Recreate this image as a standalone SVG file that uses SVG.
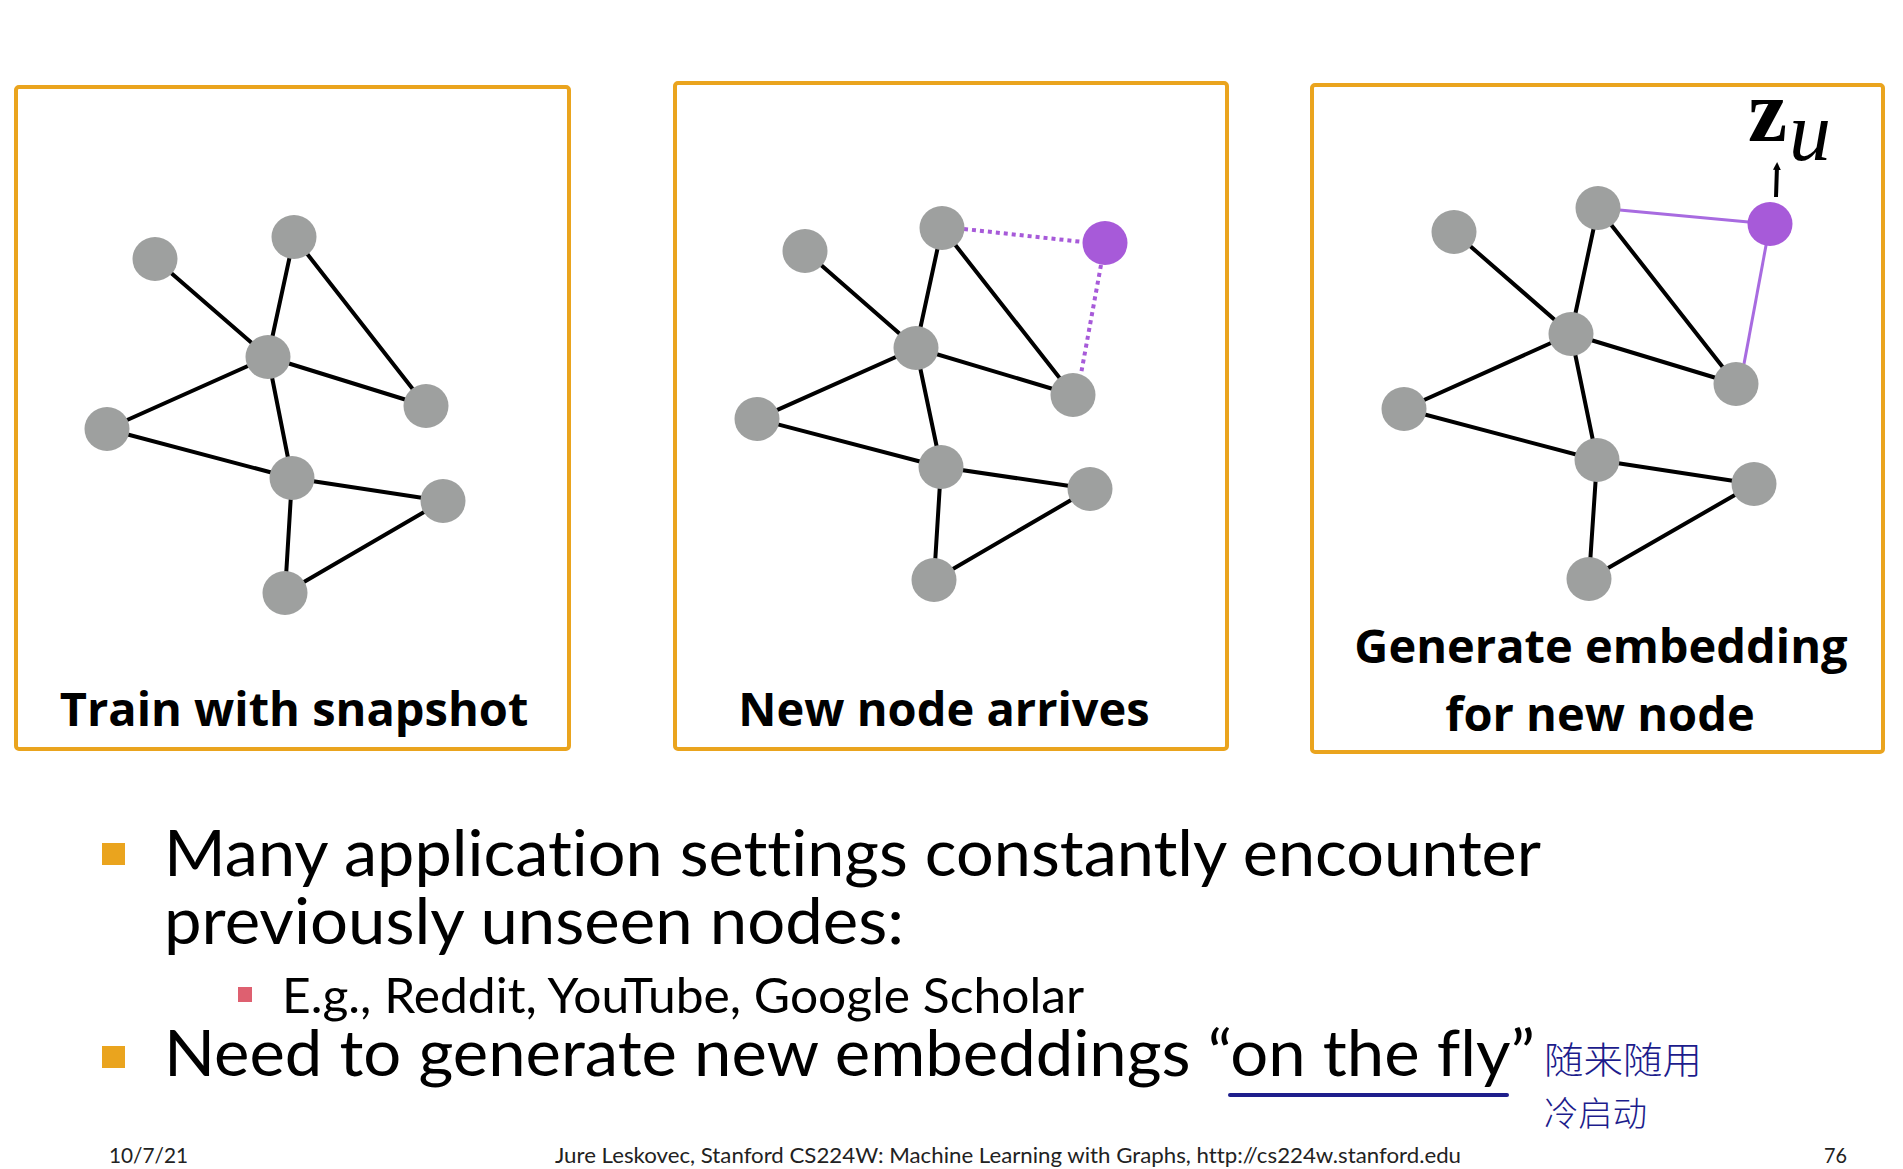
<svg xmlns="http://www.w3.org/2000/svg" width="1903" height="1169" viewBox="0 0 1903 1169">
<defs>
<style>
.frame{fill:#fff;stroke:#EAA41E;stroke-width:4}
.e{stroke:#000;stroke-width:4;stroke-linecap:round}
.n{fill:#9EA09F}
.p{fill:#A75AD9}
.pd{stroke:#A75AD9;stroke-width:4;stroke-dasharray:4 4;fill:none}
.ps{stroke:#A86BE0;stroke-width:3;fill:none}
.lbl{font-family:"Open Sans","DejaVu Sans",sans-serif;font-weight:bold;font-size:47px;fill:#000;text-anchor:middle}
.b1{font-family:Lato,"Liberation Sans",sans-serif;font-size:63px;fill:#000;font-variant-ligatures:none}
.b2{font-family:Lato,"Liberation Sans",sans-serif;font-size:49px;fill:#000;font-variant-ligatures:none}
.ft{font-family:Lato,"Liberation Sans",sans-serif;font-size:22px;fill:#222;font-variant-ligatures:none}
.cn{font-family:"Noto Sans CJK SC","Noto Sans CJK JP",sans-serif;fill:#1C1C8C;font-weight:300}
</style>
<marker id="ah" markerWidth="8" markerHeight="8" refX="4" refY="4" orient="auto" markerUnits="userSpaceOnUse">
<path d="M0,0 L8,4 L0,8 z" fill="#000"/>
</marker>
</defs>
<rect width="1903" height="1169" fill="#fff"/>

<g id="panel1">
<rect class="frame" x="16" y="87" width="553" height="662" rx="3"/>
<g id="p1-edges">
<line class="e" x1="155" y1="259" x2="268" y2="357"/>
<line class="e" x1="294" y1="237" x2="268" y2="357"/>
<line class="e" x1="294" y1="237" x2="426" y2="406"/>
<line class="e" x1="268" y1="357" x2="426" y2="406"/>
<line class="e" x1="268" y1="357" x2="107" y2="429"/>
<line class="e" x1="268" y1="357" x2="292" y2="478"/>
<line class="e" x1="107" y1="429" x2="292" y2="478"/>
<line class="e" x1="292" y1="478" x2="443" y2="501"/>
<line class="e" x1="292" y1="478" x2="285" y2="593"/>
<line class="e" x1="443" y1="501" x2="285" y2="593"/>
</g>
<g id="p1-nodes">
<ellipse class="n" cx="155" cy="259" rx="22.5" ry="22"/>
<ellipse class="n" cx="294" cy="237" rx="22.5" ry="22"/>
<ellipse class="n" cx="268" cy="357" rx="22.5" ry="22"/>
<ellipse class="n" cx="107" cy="429" rx="22.5" ry="22"/>
<ellipse class="n" cx="426" cy="406" rx="22.5" ry="22"/>
<ellipse class="n" cx="292" cy="478" rx="22.5" ry="22"/>
<ellipse class="n" cx="443" cy="501" rx="22.5" ry="22"/>
<ellipse class="n" cx="285" cy="593" rx="22.5" ry="22"/>
</g>
<text class="lbl" x="294" y="726">Train with snapshot</text>
</g>

<g id="panel2">
<rect class="frame" x="675" y="83" width="552" height="666" rx="3"/>
<g id="p2-edges">
<line class="e" x1="805" y1="251" x2="916" y2="348"/>
<line class="e" x1="942" y1="228" x2="916" y2="348"/>
<line class="e" x1="942" y1="228" x2="1073" y2="395"/>
<line class="e" x1="916" y1="348" x2="1073" y2="395"/>
<line class="e" x1="916" y1="348" x2="757" y2="419"/>
<line class="e" x1="916" y1="348" x2="941" y2="467"/>
<line class="e" x1="757" y1="419" x2="941" y2="467"/>
<line class="e" x1="941" y1="467" x2="1090" y2="489"/>
<line class="e" x1="941" y1="467" x2="934" y2="580"/>
<line class="e" x1="1090" y1="489" x2="934" y2="580"/>
<line class="pd" x1="964" y1="229" x2="1083" y2="242"/>
<line class="pd" x1="1101" y1="265" x2="1081" y2="374"/>
</g>
<g id="p2-nodes">
<ellipse class="n" cx="805" cy="251" rx="22.5" ry="22"/>
<ellipse class="n" cx="942" cy="228" rx="22.5" ry="22"/>
<ellipse class="n" cx="916" cy="348" rx="22.5" ry="22"/>
<ellipse class="n" cx="757" cy="419" rx="22.5" ry="22"/>
<ellipse class="n" cx="1073" cy="395" rx="22.5" ry="22"/>
<ellipse class="n" cx="941" cy="467" rx="22.5" ry="22"/>
<ellipse class="n" cx="1090" cy="489" rx="22.5" ry="22"/>
<ellipse class="n" cx="934" cy="580" rx="22.5" ry="22"/>
<ellipse class="p" cx="1105" cy="243" rx="22.5" ry="22"/>
</g>
<text class="lbl" x="944" y="726">New node arrives</text>
</g>

<g id="panel3">
<rect class="frame" x="1312" y="85" width="571" height="667" rx="3"/>
<g id="p3-edges">
<line class="e" x1="1454" y1="232" x2="1571" y2="334"/>
<line class="e" x1="1598" y1="208" x2="1571" y2="334"/>
<line class="e" x1="1598" y1="208" x2="1736" y2="384"/>
<line class="e" x1="1571" y1="334" x2="1736" y2="384"/>
<line class="e" x1="1571" y1="334" x2="1404" y2="409"/>
<line class="e" x1="1571" y1="334" x2="1597" y2="460"/>
<line class="e" x1="1404" y1="409" x2="1597" y2="460"/>
<line class="e" x1="1597" y1="460" x2="1754" y2="484"/>
<line class="e" x1="1597" y1="460" x2="1589" y2="579"/>
<line class="e" x1="1754" y1="484" x2="1589" y2="579"/>
<line class="ps" x1="1598" y1="208" x2="1770" y2="224"/>
<line class="ps" x1="1770" y1="224" x2="1744" y2="364"/>
<line stroke="#000" stroke-width="4" x1="1776" y1="197" x2="1777" y2="166" marker-end="url(#ah)"/>
</g>
<g id="p3-nodes">
<ellipse class="n" cx="1454" cy="232" rx="22.5" ry="22"/>
<ellipse class="n" cx="1598" cy="208" rx="22.5" ry="22"/>
<ellipse class="n" cx="1571" cy="334" rx="22.5" ry="22"/>
<ellipse class="n" cx="1404" cy="409" rx="22.5" ry="22"/>
<ellipse class="n" cx="1736" cy="384" rx="22.5" ry="22"/>
<ellipse class="n" cx="1597" cy="460" rx="22.5" ry="22"/>
<ellipse class="n" cx="1754" cy="484" rx="22.5" ry="22"/>
<ellipse class="n" cx="1589" cy="579" rx="22.5" ry="22"/>
<ellipse class="p" cx="1770" cy="224" rx="22.5" ry="22"/>
</g>
<text x="1748" y="141" font-family="'Liberation Serif',serif" font-weight="bold" font-size="88">z</text>
<text x="1789" y="160" font-family="'Liberation Serif',serif" font-style="italic" font-size="84">u</text>
<text class="lbl" x="1601" y="663">Generate embedding</text>
<text class="lbl" x="1600" y="731">for new node</text>
</g>

<g id="bullets">
<rect x="102" y="843" width="23" height="22" fill="#EAA41E"/>
<text class="b1" x="164" y="876" textLength="1377" lengthAdjust="spacingAndGlyphs">Many application settings constantly encounter</text>
<text class="b1" x="164" y="944" textLength="740" lengthAdjust="spacingAndGlyphs">previously unseen nodes:</text>
<rect x="238" y="987" width="14" height="15" fill="#DE6070"/>
<text class="b2" x="282" y="1013" textLength="802" lengthAdjust="spacingAndGlyphs">E.g., Reddit, YouTube, Google Scholar</text>
<rect x="102" y="1046" width="23" height="22" fill="#EAA41E"/>
<text class="b1" x="164" y="1076" textLength="1371" lengthAdjust="spacingAndGlyphs">Need to generate new embeddings “on the fly”</text>
<line x1="1230" y1="1095" x2="1507" y2="1095" stroke="#1E1E8C" stroke-width="4" stroke-linecap="round"/>
<text class="cn" x="1544" y="1074" font-size="37" textLength="158" lengthAdjust="spacingAndGlyphs">随来随用</text>
<text class="cn" x="1544" y="1126" font-size="34" textLength="103" lengthAdjust="spacingAndGlyphs">冷启动</text>
</g>

<g id="footer">
<text class="ft" x="109" y="1163" textLength="79" lengthAdjust="spacingAndGlyphs">10/7/21</text>
<text class="ft" x="555" y="1163" textLength="906" lengthAdjust="spacingAndGlyphs">Jure Leskovec, Stanford CS224W: Machine Learning with Graphs, http://cs224w.stanford.edu</text>
<text class="ft" x="1824" y="1163" textLength="23" lengthAdjust="spacingAndGlyphs">76</text>
</g>
</svg>
